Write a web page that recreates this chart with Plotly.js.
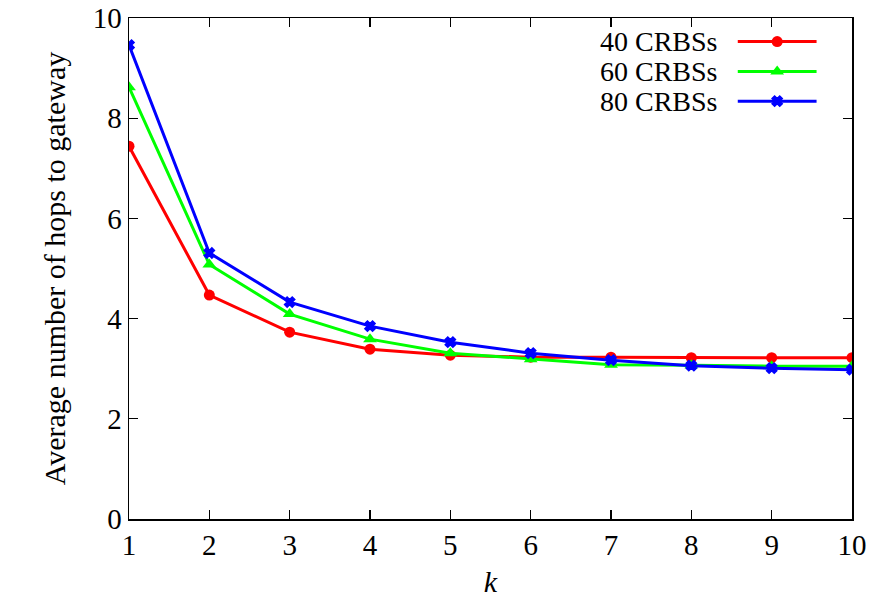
<!DOCTYPE html>
<html>
<head>
<meta charset="utf-8">
<script src="https://cdn.plot.ly/plotly-3.0.1.min.js"></script>
<style>html,body{margin:0;padding:0;background:#fff;}#chart{width:876px;height:611px;}</style>
</head>
<body>
<div id="chart"></div>
<script>
const kValues = [1, 2, 3, 4, 5, 6, 7, 8, 9, 10];
const hops40 = [7.44, 4.47, 3.73, 3.39, 3.27, 3.23, 3.23, 3.22, 3.22, 3.22];
const hops60 = [8.62, 5.08, 4.09, 3.59, 3.31, 3.19, 3.08, 3.07, 3.05, 3.05];
const hops80 = [9.46, 5.31, 4.33, 3.85, 3.53, 3.31, 3.17, 3.06, 3.01, 2.98];
const seriesNames = ['40 CRBSs', '60 CRBSs', '80 CRBSs'];
const seriesColors = ['#ff0000', '#00ff00', '#0000ff'];
const seriesSymbols = ['circle', 'triangle-up', 'x'];
const seriesSizes = [11, 12, 9];
const yTicks = [0, 2, 4, 6, 8, 10];

const font = 'Liberation Serif';
const seriesData = [hops40, hops60, hops80];

const traces = seriesData.map((ys, i) => ({
  x: kValues, y: ys, type: 'scatter', mode: 'lines+markers',
  name: seriesNames[i], showlegend: false,
  line: {color: seriesColors[i], width: 3},
  marker: {color: seriesColors[i], symbol: seriesSymbols[i], size: seriesSizes[i],
           line: {color: seriesColors[i], width: i === 2 ? 1.5 : 0}}
}));

const legRowsY = [0.953, 0.893, 0.834];
const legendAnn = [];
seriesNames.forEach((nm, i) => {
  traces.push({
    x: [0.842, 0.951], y: [legRowsY[i], legRowsY[i]], xaxis: 'x2', yaxis: 'y2',
    type: 'scatter', mode: 'lines', showlegend: false, hoverinfo: 'skip',
    line: {color: seriesColors[i], width: 3}
  });
  traces.push({
    x: [0.8965], y: [legRowsY[i]], xaxis: 'x2', yaxis: 'y2',
    type: 'scatter', mode: 'markers', showlegend: false, hoverinfo: 'skip',
    marker: {color: seriesColors[i], symbol: seriesSymbols[i], size: seriesSizes[i],
             line: {color: seriesColors[i], width: i === 2 ? 1.5 : 0}}
  });
  legendAnn.push({
    xref: 'x2', yref: 'y2', x: 0.818, y: legRowsY[i], text: nm,
    showarrow: false, xanchor: 'right', yanchor: 'middle',
    font: {family: font, size: 28, color: '#000'}
  });
});

const layout = {
  width: 876, height: 611,
  margin: {l: 129, r: 24, t: 18, b: 92},
  paper_bgcolor: '#fff', plot_bgcolor: '#fff',
  showlegend: false,
  font: {family: font, size: 30, color: '#000'},
  xaxis: {
    range: [1, 10], tickvals: kValues, ticktext: kValues.map(String),
    ticks: 'inside', ticklen: 9, tickwidth: 1.2, tickcolor: '#000',
    showline: true, linecolor: '#000', linewidth: 1.5, mirror: 'ticks',
    showgrid: false, zeroline: false,
    tickfont: {family: font, size: 29, color: '#000'},
    title: {text: '<i>k</i>', font: {family: font, size: 30, color: '#000'}, standoff: 10}
  },
  yaxis: {
    range: [0, 10], tickvals: yTicks, ticktext: yTicks.map(String),
    ticks: 'inside', ticklen: 9, tickwidth: 1.2, tickcolor: '#000',
    showline: true, linecolor: '#000', linewidth: 1.5, mirror: 'ticks',
    showgrid: false, zeroline: false,
    tickfont: {family: font, size: 29, color: '#000'},
    title: {text: 'Average number of hops to gateway', font: {family: font, size: 30, color: '#000'}, standoff: 18}
  },
  xaxis2: {range: [0, 1], overlaying: 'x', visible: false, fixedrange: true},
  yaxis2: {range: [0, 1], overlaying: 'y', visible: false, fixedrange: true},
  annotations: legendAnn
};

Plotly.newPlot('chart', traces, layout, {staticPlot: true});
</script>
</body>
</html>
